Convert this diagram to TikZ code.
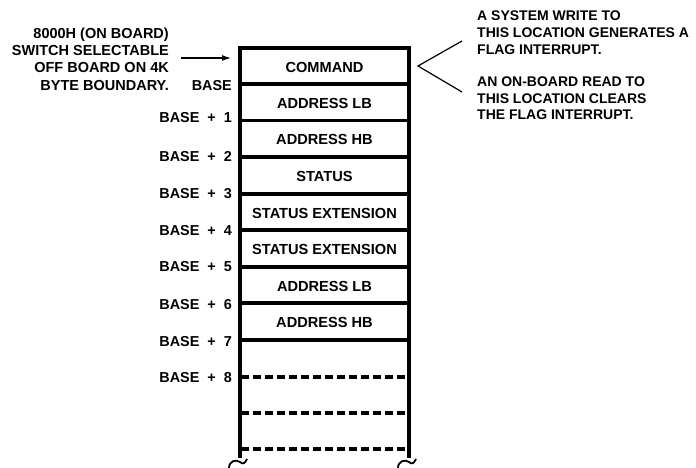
\documentclass[tikz,border=0pt]{standalone}
\usepackage{fontspec}
\setmainfont{Liberation Sans}
\usetikzlibrary{arrows.meta}
\begin{document}
\begin{tikzpicture}[x=1pt,y=-1pt,
  font=\bfseries\fontsize{14}{16.6}\selectfont,
  boxline/.style={line width=3.4pt},
  dashline/.style={line width=3.4pt, dash pattern=on 8pt off 4pt},
  thinline/.style={line width=1.2pt},
  curl/.style={line width=1.8pt},
  rowtext/.style={font=\bfseries\fontsize{14.6}{17}\selectfont, inner sep=0pt},
  baselabel/.style={anchor=east, inner sep=0pt, font=\bfseries\fontsize{14.4}{17}\selectfont},
  note/.style={inner sep=0pt}]
\useasboundingbox (0,0) rectangle (696,468);
% outer frame
\draw[boxline, line join=miter] (240,458) -- (240,48) -- (409,48) -- (409,458);
% solid dividers
\foreach \y in {84,120.5,157,194,230,267,303,340}
  \draw[boxline] (240,\y) -- (409,\y);
% dashed dividers
\foreach \y in {377,413,449}
  \draw[dashline] (241,\y) -- (409,\y);
% break curls
\draw[curl] (229,468) .. controls (229,461) and (236,459) .. (240,462) .. controls (243,465) and (245,463) .. (247,459);
\draw[curl] (398,468) .. controls (398,461) and (405,459) .. (409,462) .. controls (412,465) and (414,463) .. (416,459);
% row texts
\node[rowtext] (r1) at (324.5,67) {COMMAND};
\node[rowtext] (r2) at (324.5,103) {ADDRESS LB};
\node[rowtext] (r3) at (324.5,139.5) {ADDRESS HB};
\node[rowtext] (r4) at (324.5,176.5) {STATUS};
\node[rowtext] (r5) at (324.5,213) {STATUS EXTENSION};
\node[rowtext] (r6) at (324.5,249.5) {STATUS EXTENSION};
\node[rowtext] (r7) at (324.5,286) {ADDRESS LB};
\node[rowtext] (r8) at (324.5,322.5) {ADDRESS HB};
% base labels
\node[baselabel] (b0) at (232,85.5) {BASE};
\node[baselabel] (b1) at (232,118) {BASE\ \ +\ \ 1};
\node[baselabel] (b2) at (232,157) {BASE\ \ +\ \ 2};
\node[baselabel] (b3) at (232,193.5) {BASE\ \ +\ \ 3};
\node[baselabel] (b4) at (232,230.5) {BASE\ \ +\ \ 4};
\node[baselabel] (b5) at (232,267) {BASE\ \ +\ \ 5};
\node[baselabel] (b6) at (232,304.5) {BASE\ \ +\ \ 6};
\node[baselabel] (b7) at (232,341.5) {BASE\ \ +\ \ 7};
\node[baselabel] (b8) at (232,378) {BASE\ \ +\ \ 8};
% left note
\node[note, anchor=north east, align=right, font=\bfseries\fontsize{14.5}{17.3}\selectfont] (lnote) at (169,27.5)
  {8000H (ON BOARD)\\SWITCH SELECTABLE\\OFF BOARD ON 4K\\BYTE BOUNDARY.};
\coordinate (atail) at (181,58);
\coordinate (ahead) at (231,58);
\draw[thinline, -{Latex[length=9pt,width=6pt]}] (atail) -- (ahead);
% right notes
\node[note, anchor=north west, align=left] (rnote1) at (477,11)
  {A SYSTEM WRITE TO\\THIS LOCATION GENERATES A\\FLAG INTERRUPT.};
\node[note, anchor=north west, align=left] (rnote2) at (477,76.5)
  {AN ON-BOARD READ TO\\THIS LOCATION CLEARS\\THE FLAG INTERRUPT.};
\coordinate (capex) at (418,66);
\coordinate (cup) at (462,41);
\coordinate (clow) at (462,92);
\draw[thinline] (cup) -- (capex) -- (clow);
\end{tikzpicture}
\end{document}
